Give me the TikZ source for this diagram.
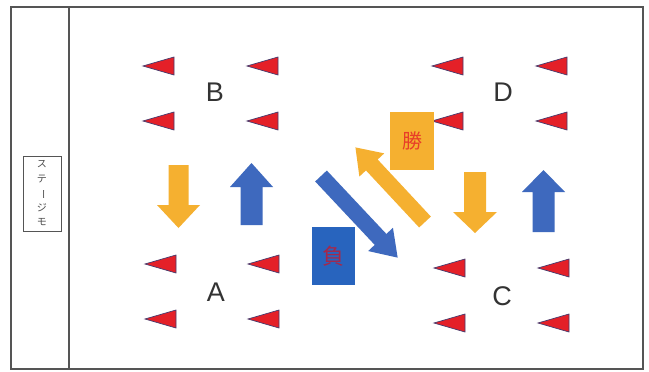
\documentclass[tikz,border=0pt]{standalone}
\usepackage{fontspec}
\setmainfont{Liberation Sans}
\newfontfamily\jpfont{Noto Sans CJK JP}
\definecolor{framegray}{RGB}{85,85,85}
\definecolor{trired}{RGB}{228,32,40}
\definecolor{triedge}{RGB}{70,60,110}
\definecolor{arrorange}{RGB}{245,176,48}
\definecolor{arrblue}{RGB}{62,105,190}
\definecolor{boxblue}{RGB}{40,100,190}
\definecolor{kachired}{RGB}{232,62,40}
\definecolor{makered}{RGB}{165,40,75}
\tikzset{
  letterlbl/.style={font=\fontsize{27}{27}\selectfont, text=black!80, inner sep=0pt},
  framestyle/.style={draw=framegray, line width=1.3pt},
  seat/.style={fill=trired, draw=triedge, line width=0.7pt, line join=miter},
}
\newcommand\seatat[2]{\path[seat] (#1-16,#2) -- (#1+15,#2-9) -- (#1+15,#2+9) -- cycle;}
% color, tail x, tail y, angle, length, shaft half, head half, head length
\newcommand\blockarrow[8]{\fill[#1,shift={(#2,#3)},rotate=#4] (0,-#6) -- (#5-#8,-#6) -- (#5-#8,-#7) -- (#5,0) -- (#5-#8,#7) -- (#5-#8,#6) -- (0,#6) -- cycle;}
\begin{document}
\begin{tikzpicture}[x=1pt,y=-1pt]
\useasboundingbox[fill=white] (0,0) rectangle (649,372);
% frame
\draw[framestyle] (11,7) rectangle (643,369);
\draw[framestyle] (69,7) -- (69,369);
% stage label
\node[draw=framegray, line width=1pt, minimum width=38pt, minimum height=75pt, inner sep=0pt] (stage) at (42,193.5) {};
\node[font=\jpfont\fontsize{10}{14.5}\selectfont, text=black!70, align=center, inner sep=0pt] (stagetxt) at (stage.center) {ス\\テ\\\rotatebox[origin=c]{-90}{ー}\\ジ\\モ};
% seats group B
\seatat{159}{66}\seatat{263}{66}\seatat{159}{121}\seatat{263}{121}
% seats group A
\seatat{161}{264}\seatat{264}{264}\seatat{161}{319}\seatat{264}{319}
% seats group D
\seatat{448}{66}\seatat{552}{66}\seatat{448}{121}\seatat{552}{121}
% seats group C
\seatat{450}{268}\seatat{554}{268}\seatat{450}{323}\seatat{554}{323}
% labels
\node[letterlbl] (B) at (215,92) {B};
\node[letterlbl] (A) at (216,292) {A};
\node[letterlbl] (D) at (503,92) {D};
\node[letterlbl] (C) at (502,296) {C};
% vertical arrows
\blockarrow{arrorange}{178.5}{165}{-90}{63}{10}{21.5}{23}
\blockarrow{arrblue}{251.5}{225}{90}{62}{11}{21.5}{24}
\blockarrow{arrorange}{475}{172}{-90}{61}{11}{22}{21}
\blockarrow{arrblue}{543.5}{232}{90}{62}{11}{21.5}{22}
% diagonal arrows
\blockarrow{arrblue}{321}{176}{-46.8}{112}{8}{17}{25}
\blockarrow{arrorange}{425}{222}{133}{102}{8}{17}{24}
% result boxes
\node[fill=arrorange, minimum width=44pt, minimum height=58pt, inner sep=0pt, text=kachired, font=\jpfont\fontsize{20}{20}\selectfont] (win) at (412,141) {勝};
\node[fill=boxblue, minimum width=43pt, minimum height=58pt, inner sep=0pt, text=makered, font=\jpfont\fontsize{22}{22}\selectfont] (lose) at (333.5,256) {負};
\end{tikzpicture}
\end{document}
